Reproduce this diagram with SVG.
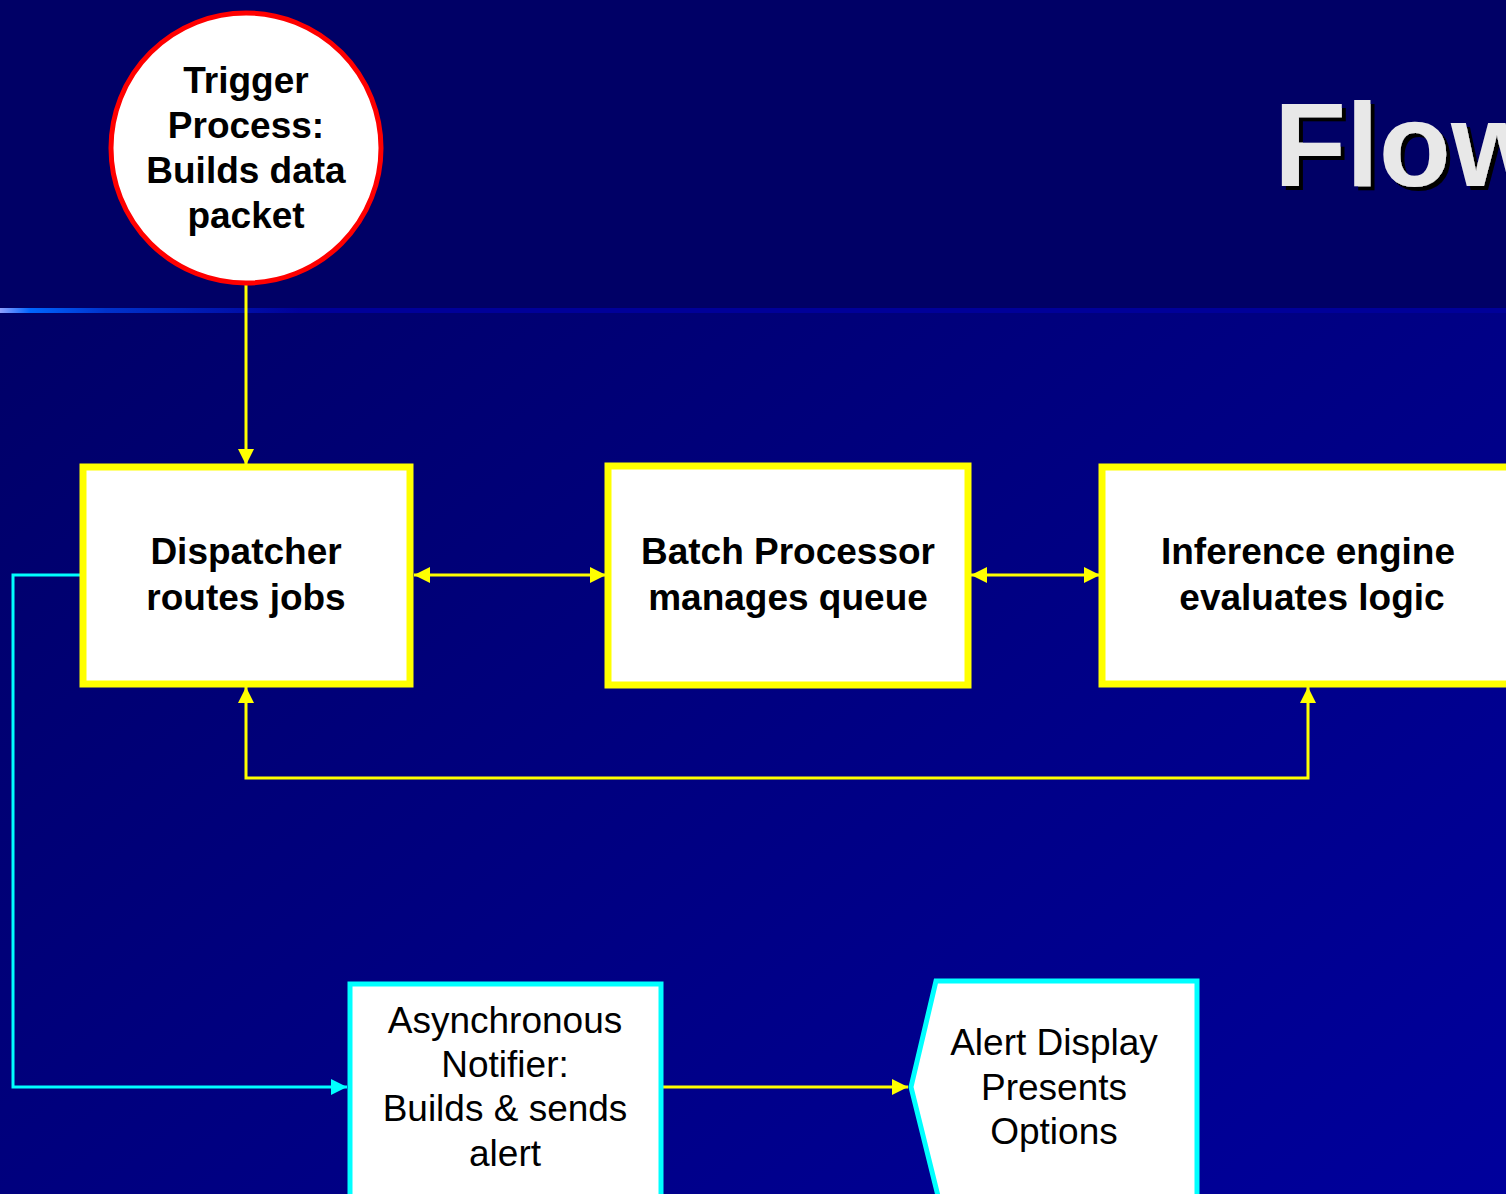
<svg xmlns="http://www.w3.org/2000/svg" width="1506" height="1194" viewBox="0 0 1506 1194">
<defs>
<linearGradient id="bgLow" x1="0" y1="0" x2="1" y2="1">
<stop offset="0" stop-color="#000060"/>
<stop offset="1" stop-color="#00009c"/>
</linearGradient>
<linearGradient id="rule" x1="0" y1="0" x2="1" y2="0">
<stop offset="0" stop-color="#8fa0ff"/>
<stop offset="0.02" stop-color="#0066ff"/>
<stop offset="0.07" stop-color="#0033cc"/>
<stop offset="0.2" stop-color="#000099"/>
<stop offset="1" stop-color="#000099"/>
</linearGradient>
<filter id="shadow" x="-10%" y="-10%" width="130%" height="130%">
<feOffset in="SourceAlpha" dx="4" dy="4" result="off"/>
<feMerge><feMergeNode in="off"/><feMergeNode in="SourceGraphic"/></feMerge>
</filter>
<marker id="ay" viewBox="0 0 10 10" refX="10" refY="5" markerWidth="16" markerHeight="16" markerUnits="userSpaceOnUse" orient="auto-start-reverse">
<path d="M0,0 L10,5 L0,10 Z" fill="#ffff00"/>
</marker>
<marker id="ac" viewBox="0 0 10 10" refX="10" refY="5" markerWidth="16" markerHeight="16" markerUnits="userSpaceOnUse" orient="auto-start-reverse">
<path d="M0,0 L10,5 L0,10 Z" fill="#00ffff"/>
</marker>
</defs>
<style>
.ybox{fill:#fff;stroke:#ffff00;stroke-width:7}
.cbox{fill:#fff;stroke:#00ffff;stroke-width:5}
.b{font-family:"Liberation Sans",Arial,sans-serif;font-weight:bold;font-size:37px;fill:#000;text-anchor:middle}
.n{font-family:"Liberation Sans",Arial,sans-serif;font-size:37px;fill:#000;text-anchor:middle}
.yl{fill:none;stroke:#ffff00;stroke-width:3}
.cl{fill:none;stroke:#00ffff;stroke-width:3}
</style>
<rect x="0" y="0" width="1506" height="1194" fill="url(#bgLow)"/>
<rect x="0" y="0" width="1506" height="310" fill="#000066"/>
<rect x="0" y="308" width="1506" height="5" fill="url(#rule)"/>
<g id="title">
<text x="1274" y="186" font-family="Liberation Sans,Arial,sans-serif" font-weight="bold" font-size="118" fill="#e8e8e8" filter="url(#shadow)">Flow</text>
</g>
<g id="connectors">
<line class="yl" x1="246" y1="285" x2="246" y2="465" marker-end="url(#ay)"/>
<line class="yl" x1="414" y1="575" x2="606" y2="575" marker-start="url(#ay)" marker-end="url(#ay)"/>
<line class="yl" x1="971" y1="575" x2="1100" y2="575" marker-start="url(#ay)" marker-end="url(#ay)"/>
<polyline class="yl" points="246,687 246,778 1308,778 1308,687" marker-start="url(#ay)" marker-end="url(#ay)"/>
<polyline class="cl" points="82,575 13,575 13,1087 347,1087" marker-end="url(#ac)"/>
<line class="yl" x1="662" y1="1087" x2="908" y2="1087" marker-end="url(#ay)"/>
</g>
<g id="trigger">
<circle cx="246" cy="148" r="135" fill="#fff" stroke="#ff0000" stroke-width="5"/>
<text class="b" x="246" y="93">Trigger</text>
<text class="b" x="246" y="138">Process:</text>
<text class="b" x="246" y="183">Builds data</text>
<text class="b" x="246" y="228">packet</text>
</g>
<g id="dispatcher">
<rect class="ybox" x="83" y="467" width="327" height="217"/>
<text class="b" x="246" y="564">Dispatcher</text>
<text class="b" x="246" y="610">routes jobs</text>
</g>
<g id="batch">
<rect class="ybox" x="608" y="466" width="360" height="219"/>
<text class="b" x="788" y="564">Batch Processor</text>
<text class="b" x="788" y="610">manages queue</text>
</g>
<g id="inference">
<rect class="ybox" x="1102" y="467" width="420" height="217"/>
<text class="b" x="1308" y="564">Inference engine</text>
<text class="b" x="1312" y="610">evaluates logic</text>
</g>
<g id="notifier">
<rect class="cbox" x="350" y="984" width="311" height="220"/>
<text class="n" x="505" y="1033">Asynchronous</text>
<text class="n" x="505" y="1077">Notifier:</text>
<text class="n" x="505" y="1121">Builds &amp; sends</text>
<text class="n" x="505" y="1166">alert</text>
</g>
<g id="display">
<polygon class="cbox" points="936,981 1197,981 1197,1204 940,1204 911,1087"/>
<text class="n" x="1054" y="1055">Alert Display</text>
<text class="n" x="1054" y="1100">Presents</text>
<text class="n" x="1054" y="1144">Options</text>
</g>
</svg>
